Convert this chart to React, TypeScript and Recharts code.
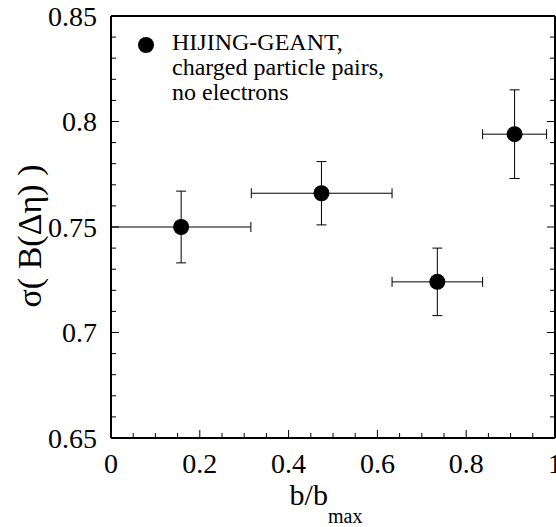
import { ScatterChart, Scatter, XAxis, YAxis, ErrorBar } from "recharts";

const xCenter = [0.158, 0.474, 0.735, 0.909];
const sigmaB = [0.75, 0.766, 0.724, 0.794];
const xErrLow = [0.158, 0.158, 0.102, 0.072];
const xErrHigh = [0.157, 0.159, 0.102, 0.072];
const yErrLow = [0.017, 0.015, 0.016, 0.021];
const yErrHigh = [0.017, 0.015, 0.016, 0.021];

const xTicks = [0, 0.05, 0.1, 0.15, 0.2, 0.25, 0.3, 0.35, 0.4, 0.45, 0.5, 0.55, 0.6, 0.65, 0.7, 0.75, 0.8, 0.85, 0.9, 0.95, 1];
const xMajor = [0, 0.2, 0.4, 0.6, 0.8, 1];
const yTicks = [0.65, 0.66, 0.67, 0.68, 0.69, 0.7, 0.71, 0.72, 0.73, 0.74, 0.75, 0.76, 0.77, 0.78, 0.79, 0.8, 0.81, 0.82, 0.83, 0.84, 0.85];
const yMajor = [0.65, 0.7, 0.75, 0.8, 0.85];

const legendLines = ["HIJING-GEANT,", "charged particle pairs,", "no electrons"];

const FONT = "Liberation Serif";
const frame = { stroke: "#000", strokeWidth: 2 };

const data = xCenter.map((x, i) => ({
  x,
  y: sigmaB[i],
  xErr: [xErrLow[i], xErrHigh[i]],
  yErr: [yErrLow[i], yErrHigh[i]],
}));

const isMajor = (v: number, list: number[]) => list.some((m) => Math.abs(m - v) < 1e-9);
const fmt = (v: number) => String(Math.round(v * 100) / 100);

function Label({ children, ...rest }: any) {
  return (
    <text fontFamily={FONT} fill="#000" stroke="none" {...rest}>
      {children}
    </text>
  );
}

function BottomTick({ x, y, payload }: any) {
  const major = isMajor(payload.value, xMajor);
  return (
    <g>
      <line x1={x} y1={y} x2={x} y2={y - (major ? 8 : 5)} stroke="#000" />
      {major && (
        <Label x={x} y={y + 35} textAnchor="middle" fontSize={28}>
          {fmt(payload.value)}
        </Label>
      )}
    </g>
  );
}

function TopTick({ x, y, payload }: any) {
  const major = isMajor(payload.value, xMajor);
  return <line x1={x} y1={y} x2={x} y2={y + (major ? 8 : 5)} stroke="#000" />;
}

function LeftTick({ x, y, payload }: any) {
  const major = isMajor(payload.value, yMajor);
  return (
    <g>
      <line x1={x} y1={y} x2={x + (major ? 8 : 5)} y2={y} stroke="#000" />
      {major && (
        <Label x={x - 14} y={y} dy="0.35em" textAnchor="end" fontSize={28}>
          {fmt(payload.value)}
        </Label>
      )}
    </g>
  );
}

function RightTick({ x, y, payload }: any) {
  const major = isMajor(payload.value, yMajor);
  return <line x1={x} y1={y} x2={x - (major ? 8 : 5)} y2={y} stroke="#000" />;
}

function XTitle({ viewBox }: any) {
  return (
    <Label x={viewBox.x + viewBox.width / 2 - 7} y={viewBox.y + 67} textAnchor="middle" fontSize={30}>
      b/b
      <tspan fontSize={20} dy={18}>max</tspan>
    </Label>
  );
}

function YTitle({ viewBox }: any) {
  const cx = viewBox.x + 41;
  const cy = viewBox.y + viewBox.height / 2 + 9;
  return (
    <Label x={cx} y={cy} transform={`rotate(-90, ${cx}, ${cy})`} textAnchor="middle" fontSize={34}>
      σ( B(Δη) )
    </Label>
  );
}

function Dot({ cx, cy }: any) {
  return <circle cx={cx} cy={cy} r={8} fill="#000" />;
}

export default function App() {
  return (
    <div style={{ position: "absolute", left: 0, top: 0, width: 556, height: 527, background: "#fff", fontFamily: FONT }}>
      <ScatterChart width={556} height={527} margin={{ top: 15, right: 0, bottom: 0, left: 0 }}>
        <XAxis
          xAxisId="b"
          dataKey="x"
          type="number"
          domain={[0, 1]}
          ticks={xTicks}
          interval={0}
          height={89}
          tickSize={0}
          tickMargin={0}
          tickLine={false}
          axisLine={frame}
          tick={<BottomTick />}
          label={<XTitle />}
          allowDataOverflow
        />
        <XAxis
          xAxisId="t"
          orientation="top"
          type="number"
          domain={[0, 1]}
          ticks={xTicks}
          interval={0}
          height={1}
          tickSize={0}
          tickMargin={0}
          tickLine={false}
          axisLine={frame}
          tick={<TopTick />}
          allowDataOverflow
        />
        <YAxis
          yAxisId="l"
          dataKey="y"
          type="number"
          domain={[0.65, 0.85]}
          ticks={yTicks}
          interval={0}
          width={111}
          tickSize={0}
          tickMargin={0}
          tickLine={false}
          axisLine={frame}
          tick={<LeftTick />}
          label={<YTitle />}
          allowDataOverflow
        />
        <YAxis
          yAxisId="r"
          orientation="right"
          type="number"
          domain={[0.65, 0.85]}
          ticks={yTicks}
          interval={0}
          width={1}
          tickSize={0}
          tickMargin={0}
          tickLine={false}
          axisLine={frame}
          tick={<RightTick />}
          allowDataOverflow
        />
        <Scatter xAxisId="b" yAxisId="l" data={data} dataKey="y" shape={<Dot />} isAnimationActive={false}>
          <ErrorBar dataKey="xErr" direction="x" width={5} stroke="#000" strokeWidth={1} isAnimationActive={false} />
          <ErrorBar dataKey="yErr" direction="y" width={5} stroke="#000" strokeWidth={1} isAnimationActive={false} />
        </Scatter>
      </ScatterChart>
      <div style={{ position: "absolute", left: 138, top: 37, width: 16, height: 16, borderRadius: 8, background: "#000" }} />
      <div style={{ position: "absolute", left: 172, top: 30, fontFamily: FONT, fontSize: 24, lineHeight: "25px", color: "#000", whiteSpace: "nowrap" }}>
        {legendLines.map((l) => (
          <div key={l}>{l}</div>
        ))}
      </div>
    </div>
  );
}
